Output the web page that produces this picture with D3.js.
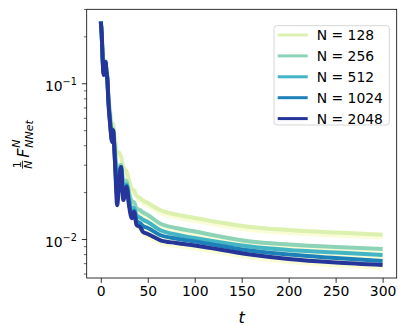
<!DOCTYPE html>
<html>
<head>
<meta charset="utf-8">
<script src="https://cdn.jsdelivr.net/npm/d3@7"></script>
<style>
  body { margin: 0; background: #fff; }
  text { font-family: "DejaVu Sans", sans-serif; fill: #000; }
</style>
</head>
<body>
<div id="chart"></div>
<script>
const width = 406;
const height = 336;
const margin = { top: 9.3, right: 9.3, bottom: 58, left: 86.7 };

// time points
const tValues = [0, 1, 2, 3, 4, 5, 6, 7, 8, 10, 12, 13, 15, 17.5, 19, 21.5, 24, 27.5, 30, 33, 35.5, 38, 42, 45, 50, 63, 80, 100, 159, 200, 250, 300];

const n128 = [0.25, 0.21, 0.15, 0.125, 0.135, 0.14, 0.125, 0.112, 0.088, 0.066, 0.055, 0.055, 0.044, 0.036, 0.036, 0.034, 0.029, 0.027, 0.024, 0.021, 0.0205, 0.019, 0.0183, 0.0177, 0.01702, 0.01536, 0.01437, 0.01364, 0.01194, 0.01142, 0.01101, 0.01066];
const n256 = [0.25, 0.207, 0.145, 0.12, 0.132, 0.138, 0.121, 0.108, 0.083, 0.06, 0.048, 0.051, 0.038, 0.027, 0.029, 0.03, 0.024, 0.0235, 0.02, 0.0175, 0.0172, 0.0158, 0.0153, 0.0148, 0.01426, 0.01258, 0.01177, 0.01117, 0.00964, 0.00922, 0.00888, 0.00863];
const n512 = [0.25, 0.206, 0.143, 0.117, 0.131, 0.137, 0.12, 0.107, 0.081, 0.057, 0.045, 0.05, 0.035, 0.022, 0.025, 0.029, 0.021, 0.0225, 0.0185, 0.0155, 0.0158, 0.0142, 0.0137, 0.0133, 0.01286, 0.01142, 0.01069, 0.01015, 0.00895, 0.0085, 0.00819, 0.00789];
const n1024 = [0.249, 0.205, 0.142, 0.115, 0.13, 0.137, 0.119, 0.106, 0.079, 0.055, 0.043, 0.05, 0.033, 0.019, 0.022, 0.029, 0.019, 0.022, 0.0172, 0.0143, 0.0152, 0.0131, 0.0126, 0.0121, 0.01177, 0.01061, 0.01007, 0.00964, 0.00844, 0.00795, 0.00755, 0.00722];
const n2048 = [0.249, 0.204, 0.141, 0.113, 0.129, 0.137, 0.118, 0.105, 0.078, 0.054, 0.042, 0.05, 0.032, 0.0165, 0.0206, 0.029, 0.0178, 0.0216, 0.0165, 0.0136, 0.0149, 0.0123, 0.0119, 0.0111, 0.01077, 0.00985, 0.00943, 0.00908, 0.00795, 0.00744, 0.00706, 0.00681];

const seriesNames = ["N = 128", "N = 256", "N = 512", "N = 1024", "N = 2048"];
const seriesValues = [n128, n256, n512, n1024, n2048];
const seriesColors = ["#dcf1b0", "#8cd3b8", "#43b5c4", "#1e80b9", "#25359a"];

const xTicks = [0, 50, 100, 150, 200, 250, 300];
const yMajorTicks = [0.01, 0.1];
const yMinorTicks = [0.006, 0.007, 0.008, 0.009, 0.02, 0.03, 0.04, 0.05, 0.06, 0.07, 0.08, 0.09, 0.2, 0.3];

const svg = d3.select("#chart")
  .append("svg")
  .attr("width", width)
  .attr("height", height);

const plotW = width - margin.left - margin.right;
const plotH = height - margin.top - margin.bottom;

const xScale = d3.scaleLinear().domain([-15, 315]).range([0, plotW]);
const yScale = d3.scaleLog().domain([0.00562, 0.2985]).range([plotH, 0]);

const g = svg.append("g")
  .attr("transform", `translate(${margin.left}, ${margin.top})`);

const clip = svg.append("clipPath").attr("id", "clip");
clip.append("rect").attr("width", plotW).attr("height", plotH);

const plotGroup = g.append("g").attr("clip-path", "url(#clip)");

// pale spread band under every curve
const band = d3.area()
  .curve(d3.curveMonotoneX)
  .x((d, i) => xScale(tValues[i]))
  .y0((d) => yScale(d * 0.93))
  .y1((d) => yScale(d * 1.03));

const line = d3.line()
  .curve(d3.curveMonotoneX)
  .x((d, i) => xScale(tValues[i]))
  .y((d) => yScale(d));

seriesValues.forEach(function (vals, k) {
  plotGroup.append("path")
    .datum(vals)
    .attr("fill", "#f7fbc4")
    .attr("opacity", 0.7)
    .attr("d", band);
});

seriesValues.forEach(function (vals, k) {
  plotGroup.append("path")
    .datum(vals)
    .attr("fill", "none")
    .attr("stroke", seriesColors[k])
    .attr("stroke-width", 4)
    .attr("stroke-linejoin", "round")
    .attr("d", line);
});

// x axis
const xAxis = d3.axisBottom(xScale).tickValues(xTicks).tickSize(4.9).tickPadding(3.5);
const xg = g.append("g")
  .attr("transform", `translate(0, ${plotH})`)
  .call(xAxis);
xg.select(".domain").remove();
xg.selectAll("line").attr("stroke", "#000").attr("stroke-width", 0.8);
xg.selectAll("text").style("font-size", "13.9px").attr("font-family", "DejaVu Sans");

// y axis: major ticks with 10^k labels, minor ticks without
const yMajor = d3.axisLeft(yScale).tickValues(yMajorTicks).tickSize(4.9).tickFormat("");
const ymg = g.append("g").call(yMajor);
ymg.select(".domain").remove();
ymg.selectAll("line").attr("stroke", "#000").attr("stroke-width", 0.8);

const yMinor = d3.axisLeft(yScale).tickValues(yMinorTicks).tickSize(2.8).tickFormat("");
const ynG = g.append("g").call(yMinor);
ynG.select(".domain").remove();
ynG.selectAll("line").attr("stroke", "#000").attr("stroke-width", 0.6);

yMajorTicks.forEach(function (v) {
  const t = g.append("text")
    .attr("x", -9.8)
    .attr("y", yScale(v) + 7.5)
    .attr("text-anchor", "end")
    .style("font-size", "13.9px");
  t.append("tspan").text("10");
  t.append("tspan")
    .attr("dy", -6)
    .style("font-size", "9.7px")
    .text("\u2212" + Math.round(-Math.log10(v)));
});

// frame
g.append("rect")
  .attr("width", plotW)
  .attr("height", plotH)
  .attr("fill", "none")
  .attr("stroke", "#000")
  .attr("stroke-width", 0.8);

// x label
g.append("text")
  .attr("x", plotW / 2)
  .attr("y", 314)
  .attr("text-anchor", "middle")
  .style("font-size", "16px")
  .style("font-style", "italic")
  .text("t");

// y label: (1/N) F^N_NNet
const yl = svg.append("g").attr("transform", `translate(33, ${margin.top + plotH / 2}) rotate(-90)`);
yl.append("text").attr("x", -21).attr("y", -12.5).attr("text-anchor", "middle")
  .style("font-size", "11px").text("1");
yl.append("line").attr("x1", -25).attr("x2", -17).attr("y1", -10.5).attr("y2", -10.5)
  .attr("stroke", "#000").attr("stroke-width", 0.8);
yl.append("text").attr("x", -21).attr("y", -1).attr("text-anchor", "middle")
  .style("font-size", "11px").style("font-style", "italic").text("N");
yl.append("text").attr("x", -14).attr("y", -4.5)
  .style("font-size", "16px").style("font-style", "italic").text("F");
yl.append("text").attr("x", -4).attr("y", -13)
  .style("font-size", "11px").style("font-style", "italic").text("N");
yl.append("text").attr("x", -4).attr("y", -0.5)
  .style("font-size", "11px").style("font-style", "italic").text("NNet");

// legend
const lg = svg.append("g").attr("transform", "translate(274, 25.7)");
lg.append("rect")
  .attr("width", 115.3)
  .attr("height", 99.3)
  .attr("rx", 3)
  .attr("fill", "#fff")
  .attr("fill-opacity", 0.8)
  .attr("stroke", "#cccccc")
  .attr("stroke-width", 0.8);

seriesNames.forEach(function (name, k) {
  const yy = 2.6 + 20.9 * k + 6.7;
  lg.append("line")
    .attr("x1", 3.7).attr("x2", 33.7)
    .attr("y1", yy).attr("y2", yy)
    .attr("stroke", seriesColors[k])
    .attr("stroke-width", 3);
  lg.append("text")
    .attr("x", 42.7)
    .attr("y", yy + 5)
    .style("font-size", "13.9px")
    .text(name);
});
</script>
</body>
</html>
